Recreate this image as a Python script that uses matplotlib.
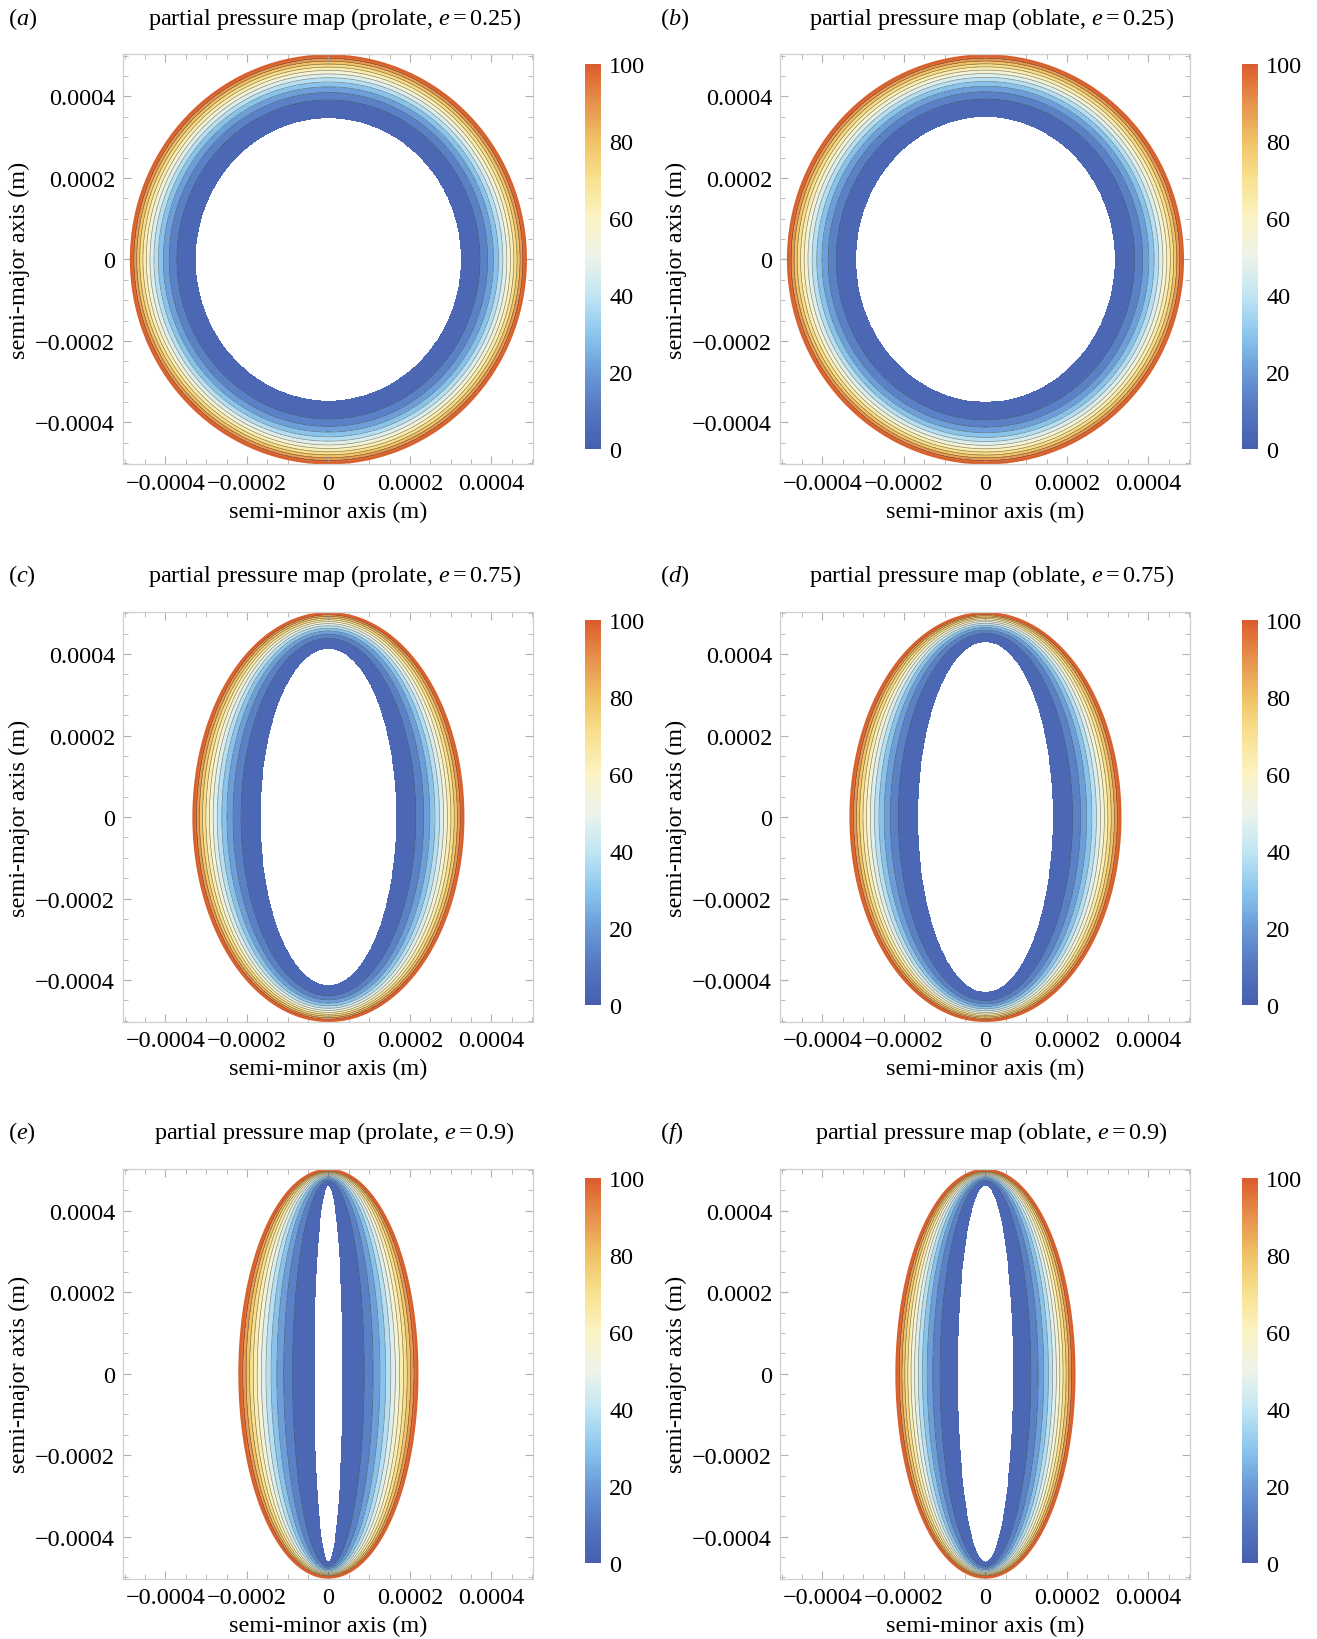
import numpy as np
import matplotlib
matplotlib.use("Agg")
import matplotlib.pyplot as plt
from matplotlib.colors import LinearSegmentedColormap, Normalize
from matplotlib.cm import ScalarMappable
from matplotlib.ticker import FixedLocator, MultipleLocator, FuncFormatter

plt.rcParams['font.family'] = ['Liberation Serif', 'DejaVu Serif']
plt.rcParams['mathtext.fontset'] = 'custom'
plt.rcParams['mathtext.rm'] = 'Liberation Serif'
plt.rcParams['mathtext.it'] = 'Liberation Serif:italic'

# panel data
panel_tags = ['a', 'b', 'c', 'd', 'e', 'f']
shapes = ['prolate', 'oblate', 'prolate', 'oblate', 'prolate', 'oblate']
ecc = [0.25, 0.25, 0.75, 0.75, 0.9, 0.9]
semi_major = 0.0005
# necrotic core (white region) semi-axes
core_minor = [0.000326, 0.000318, 0.000167, 0.000166, 0.000035, 0.000068]
core_major = [0.000347, 0.000350, 0.000413, 0.000430, 0.000462, 0.000462]

levels = np.linspace(0, 100, 13)
cbar_ticks = [0, 20, 40, 60, 80, 100]
axis_ticks = [-0.0004, -0.0002, 0, 0.0002, 0.0004]

cmap_colors = ['#465fae', '#5577c0', '#6a9bd8', '#8cc7ee', '#c2e6f4', '#eef3ea',
               '#fbf3c3', '#f8e291', '#f0c266', '#e6924c', '#dc5c2e']
cmap = LinearSegmentedColormap.from_list('pp', cmap_colors)
norm = Normalize(0, 100)

FS = 17.5


def pressure_field(X, Y, a_out, b_out, a_in, b_in):
    # t = 0 on the core boundary, t = 1 on the outer surface
    lo = np.zeros_like(X)
    hi = np.full_like(X, 1.6)
    for _ in range(40):
        mid = 0.5 * (lo + hi)
        a = a_in + mid * (a_out - a_in)
        b = b_in + mid * (b_out - b_in)
        f = (X / a) ** 2 + (Y / b) ** 2 - 1
        lo = np.where(f > 0, mid, lo)
        hi = np.where(f > 0, hi, mid)
    t = 0.5 * (lo + hi)
    p = 100 * t ** 2
    inside = (X / a_in) ** 2 + (Y / b_in) ** 2 < 1
    p[inside] = -1
    p[t > 1.55] = 1000
    return p


def fmt(v, pos):
    if abs(v) < 1e-12:
        return '0'
    return f'{v:.4f}'.replace('-', '\u2212')


fig = plt.figure(figsize=(13.17, 16.40), dpi=100)

col_left = [0.0937, 0.5926]
cbar_left = [0.4442, 0.9431]
tag_left = [0.006, 0.501]
row_bottom = [0.7162, 0.3762, 0.0368]
cbar_bottom = [0.7256, 0.3866, 0.0463]
ax_w, ax_h = 0.3113, 0.25

lim = 0.000503
g = np.linspace(-lim, lim, 900)
X, Y = np.meshgrid(g, g)

for i in range(6):
    r, c = divmod(i, 2)
    ax = fig.add_axes([col_left[c], row_bottom[r], ax_w, ax_h])
    b_out = semi_major
    a_out = semi_major * np.sqrt(1 - ecc[i] ** 2)
    P = pressure_field(X, Y, a_out, b_out, core_minor[i], core_major[i])

    ax.contourf(X, Y, P, levels=levels, cmap=cmap, norm=norm)
    ax.contour(X, Y, P, levels=levels[1:-1], colors='#333333', linewidths=0.45, alpha=0.6)
    ax.contour(X, Y, P, levels=[100], colors='#d8602c', linewidths=1.8)

    ax.set_xlim(-lim, lim)
    ax.set_ylim(-lim, lim)
    for axis in (ax.xaxis, ax.yaxis):
        axis.set_major_locator(FixedLocator(axis_ticks))
        axis.set_minor_locator(MultipleLocator(0.00005))
        axis.set_major_formatter(FuncFormatter(fmt))
    ax.tick_params(which='both', direction='in', top=True, right=True,
                   color='#b0b0b0', labelsize=FS, pad=6)
    ax.tick_params(which='major', length=6, width=0.8)
    ax.tick_params(which='minor', length=3.5, width=0.6)
    for s in ax.spines.values():
        s.set_color('#cfcfcf')
        s.set_linewidth(0.9)
    ax.set_xlabel('semi-minor axis (m)', fontsize=FS, labelpad=5)
    ax.set_ylabel('semi-major axis (m)', fontsize=FS, labelpad=4)

    ax.text(0.515, 1.09, f'partial pressure map ({shapes[i]}, $e = {ecc[i]}$)',
            transform=ax.transAxes, ha='center', va='center', fontsize=FS)
    fig.text(tag_left[c], row_bottom[r] + ax_h + 0.09 * ax_h, '(' + f'${panel_tags[i]}$' + ')',
             ha='left', va='center', fontsize=FS)

    cax = fig.add_axes([cbar_left[c], cbar_bottom[r], 0.0121, 0.2348])
    cb = fig.colorbar(ScalarMappable(norm=norm, cmap=cmap), cax=cax)
    cb.outline.set_visible(False)
    cb.set_ticks(cbar_ticks)
    cb.ax.tick_params(labelsize=FS, length=0, pad=6)

fig.savefig('out.png', dpi=100)
